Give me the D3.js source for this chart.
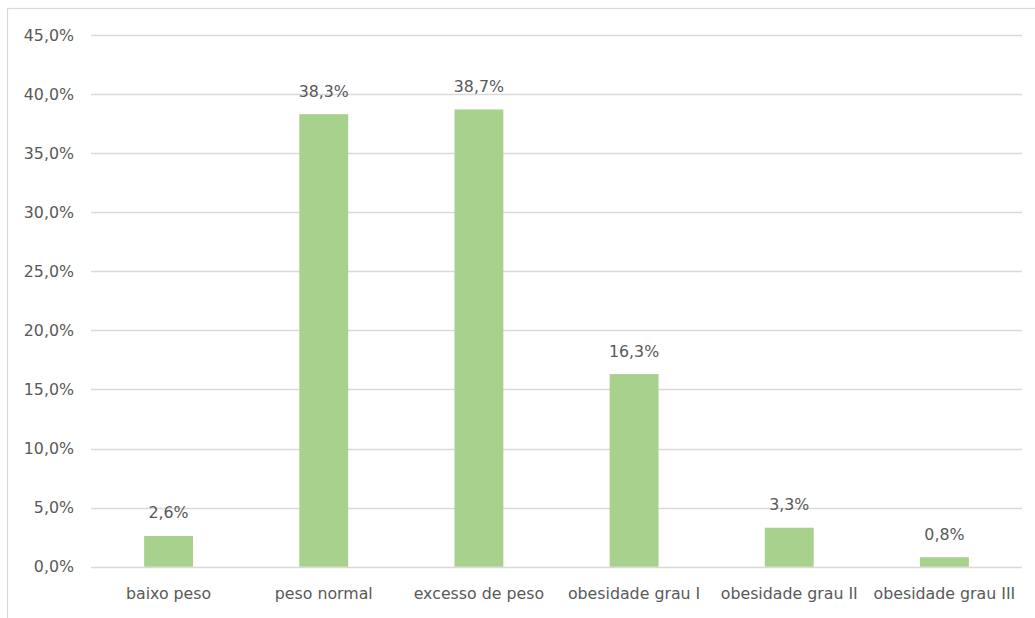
<!DOCTYPE html>
<html>
<head>
<meta charset="utf-8">
<script src="https://cdn.jsdelivr.net/npm/d3@7"></script>
<style>
  html, body { margin: 0; padding: 0; background: #fff; }
  svg { display: block; }
  text { font-family: "DejaVu Sans", sans-serif; fill: #595959; }
</style>
</head>
<body>
<svg id="chart" width="1035" height="618"></svg>
<script>
// BMI category distribution
const categories = ["baixo peso", "peso normal", "excesso de peso", "obesidade grau I", "obesidade grau II", "obesidade grau III"];
const percentages = [2.6, 38.3, 38.7, 16.3, 3.3, 0.8];
const yTicks = [0, 5, 10, 15, 20, 25, 30, 35, 40, 45];

const svg = d3.select("#chart");
const W = 1035, H = 618;
const margin = { left: 91, right: 13, top: 35, bottom: 51 };
const fontSize = "15.8px";

const fmt = v => d3.format(".1f")(v).replace(".", ",") + "%";

// outer frame
svg.append("rect")
  .attr("x", 7.5).attr("y", 8.5)
  .attr("width", W + 10).attr("height", H + 10)
  .attr("fill", "none").attr("stroke", "#d9d9d9").attr("stroke-width", 1.2);

const x = d3.scaleBand()
  .domain(categories)
  .range([margin.left, W - margin.right])
  .paddingInner(0.685).paddingOuter(0.3425);

const y = d3.scaleLinear()
  .domain([0, 45])
  .range([H - margin.bottom - 0.3, margin.top]);

// gridlines
svg.append("g")
  .selectAll("line")
  .data(yTicks)
  .join("line")
  .attr("x1", margin.left).attr("x2", W - margin.right)
  .attr("y1", d => Math.round(y(d)) + 0.5).attr("y2", d => Math.round(y(d)) + 0.5)
  .attr("stroke", "#d9d9d9").attr("stroke-width", 1.3);

// y axis labels
const yAxis = d3.axisLeft(y).tickValues(yTicks).tickFormat(fmt).tickSize(0).tickPadding(0);
const gy = svg.append("g").attr("transform", `translate(${margin.left - 17},0)`).call(yAxis);
gy.select(".domain").remove();
gy.selectAll("text").attr("font-size", fontSize).attr("fill", "#595959")
  .style("font-family", '"DejaVu Sans", sans-serif');

// bars
svg.append("g")
  .selectAll("rect")
  .data(percentages)
  .join("rect")
  .attr("x", (d, i) => x(categories[i]))
  .attr("y", d => y(d))
  .attr("width", x.bandwidth())
  .attr("height", d => y(0) - y(d))
  .attr("fill", "#a9d18e");

// value labels
svg.append("g")
  .selectAll("text")
  .data(percentages)
  .join("text")
  .attr("x", (d, i) => x(categories[i]) + x.bandwidth() / 2)
  .attr("y", d => y(d) - 17.5)
  .attr("text-anchor", "middle")
  .attr("font-size", fontSize)
  .text(d => fmt(d));

// x axis labels
const xAxis = d3.axisBottom(x).tickSize(0).tickPadding(0);
const gx = svg.append("g").attr("transform", `translate(0,${y(0) + 21})`).call(xAxis);
gx.select(".domain").remove();
gx.selectAll("text").attr("font-size", fontSize).attr("fill", "#595959")
  .style("font-family", '"DejaVu Sans", sans-serif');
</script>
</body>
</html>
